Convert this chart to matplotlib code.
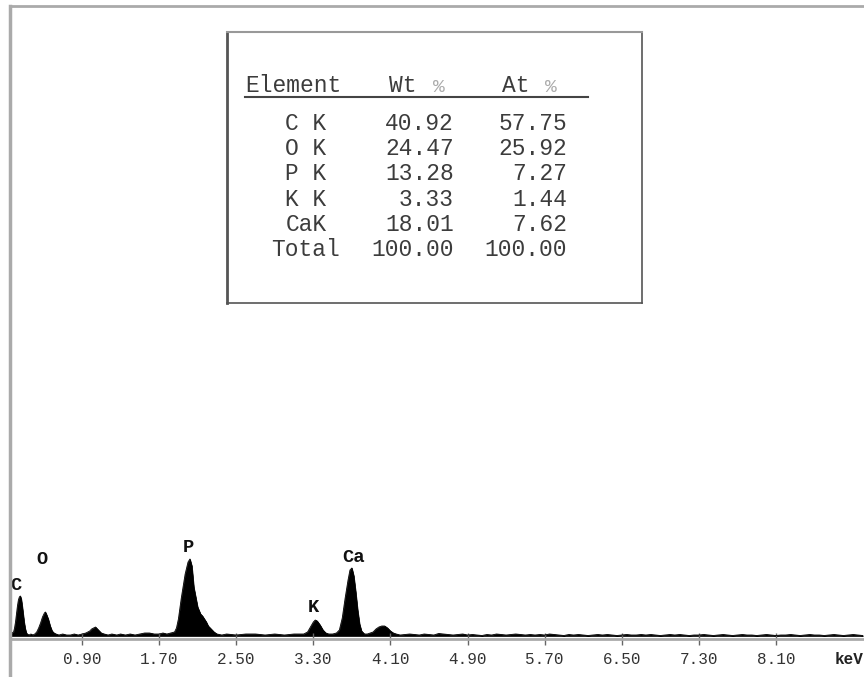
import numpy as np
import matplotlib.pyplot as plt
from matplotlib.lines import Line2D

# EDS spectrum, energy in keV and counts
energy = [0.15, 0.17, 0.19, 0.20, 0.21, 0.22, 0.23, 0.24, 0.25, 0.26,
          0.27, 0.28, 0.29, 0.30, 0.31, 0.32, 0.33, 0.35, 0.37, 0.39,
          0.41, 0.43, 0.45, 0.47, 0.49, 0.51, 0.52, 0.53, 0.55, 0.57,
          0.59, 0.61, 0.63, 0.66, 0.70, 0.74, 0.78, 0.82, 0.86, 0.90,
          0.94, 0.98, 1.00, 1.02, 1.04, 1.06, 1.08, 1.10, 1.13, 1.17,
          1.21, 1.26, 1.30, 1.35, 1.40, 1.45, 1.50, 1.55, 1.60, 1.65,
          1.70, 1.74, 1.78, 1.82, 1.86, 1.88, 1.90, 1.93, 1.97, 2.00,
          2.02, 2.04, 2.06, 2.10, 2.13, 2.15, 2.17, 2.19, 2.21, 2.24,
          2.27, 2.30, 2.35, 2.40, 2.50, 2.60, 2.70, 2.80, 2.90, 3.00,
          3.10, 3.20, 3.24, 3.27, 3.30, 3.32, 3.34, 3.37, 3.40, 3.43,
          3.46, 3.50, 3.54, 3.57, 3.60, 3.63, 3.66, 3.68, 3.70, 3.72,
          3.74, 3.76, 3.78, 3.80, 3.83, 3.86, 3.89, 3.92, 3.95, 3.98,
          4.01, 4.04, 4.07, 4.10, 4.13, 4.16, 4.20, 4.30]
counts = [40, 60, 80, 160, 280, 440, 600, 720, 780, 800,
          740, 600, 440, 280, 160, 80, 40, 20, 40, 20,
          40, 80, 160, 260, 380, 460, 480, 440, 340, 200,
          100, 60, 40, 20, 40, 20, 20, 40, 20, 40,
          60, 100, 140, 160, 180, 140, 100, 60, 40, 20,
          40, 20, 40, 20, 40, 20, 40, 60, 60, 40,
          40, 60, 40, 60, 80, 160, 340, 760, 1240, 1480,
          1540, 1400, 980, 580, 440, 400, 340, 280, 200, 140,
          80, 40, 20, 40, 20, 40, 40, 20, 40, 20,
          40, 40, 80, 180, 280, 320, 300, 220, 120, 60,
          40, 40, 60, 120, 360, 760, 1120, 1320, 1360, 1200,
          880, 520, 240, 100, 40, 40, 60, 80, 140, 180,
          200, 200, 160, 100, 60, 40, 20, 40]

# flat noisy background above 4.3 keV
tail_energy = np.linspace(4.35, 9.0, 94)
tail_counts = [30, 20, 40, 30, 20, 50, 40, 30, 20, 30,
               40, 20, 30, 20, 10, 30, 20, 40, 30, 20,
               30, 40, 30, 20, 30, 20, 30, 20, 40, 30,
               20, 10, 30, 20, 30, 20, 10, 20, 30, 20,
               30, 20, 10, 20, 30, 20, 20, 30, 20, 30,
               20, 10, 20, 30, 20, 30, 20, 10, 20, 20,
               30, 20, 10, 20, 30, 20, 10, 20, 30, 20,
               20, 10, 20, 30, 20, 10, 20, 20, 30, 20,
               10, 20, 30, 20, 20, 10, 20, 30, 20, 10,
               20, 30, 20, 10]

# peak labels
peak_names = ['C', 'O', 'P', 'K', 'Ca']
peak_energy = [0.21, 0.485, 2.00, 3.30, 3.72]
peak_label_y = [1020, 1520, 1760, 560, 1580]

tick_values = [0.90, 1.70, 2.50, 3.30, 4.10, 4.90, 5.70, 6.50, 7.30, 8.10]

# quantification table
elements = ['C K', 'O K', 'P K', 'K K', 'CaK', 'Total']
wt_pct = [40.92, 24.47, 13.28, 3.33, 18.01, 100.00]
at_pct = [57.75, 25.92, 7.27, 1.44, 7.62, 100.00]

mono = 'Liberation Mono'
W, H = 864, 677
fig = plt.figure(figsize=(8.64, 6.77), dpi=100)
ax = fig.add_axes([10 / W, 1 - 639 / H, 1 - 10 / W, (639 - 6) / H])

all_e = np.concatenate([energy, tail_energy])
all_c = np.concatenate([counts, tail_counts])
ax.fill_between(all_e, all_c, 0, color='black', lw=0.5)
ax.plot(all_e, all_c, color='black', lw=0.6)

ax.set_xlim(0.153, 9.013)
ax.set_ylim(-60, 12600)

for name, e, y in zip(peak_names, peak_energy, peak_label_y):
    ax.text(e, y, name, ha='center', va='center', fontfamily=mono,
            fontsize=13.5, fontweight='bold', color='#111')

ax.set_yticks([])
ax.set_xticks(tick_values)
ax.set_xticklabels([f'{v:.2f}' for v in tick_values], fontfamily=mono,
                   fontsize=11.5, color='#333')
ax.tick_params(axis='x', direction='inout', length=8, width=1,
               color='#666', pad=5)
ax.annotate('keV', xy=(8.86, 0), xycoords=('data', 'axes fraction'),
            xytext=(0, -21), textcoords='offset pixels', ha='center',
            va='center', fontfamily=mono, fontsize=11.5, fontweight='bold',
            color='#222')

ax.spines['right'].set_visible(False)
ax.spines['top'].set_color('#aaaaaa')
ax.spines['top'].set_linewidth(2)
ax.spines['bottom'].set_color('#aaaaaa')
ax.spines['bottom'].set_linewidth(2)
ax.spines['left'].set_visible(False)
fig.add_artist(Line2D([10 / W, 10 / W], [0, 1 - 6 / H], transform=fig.transFigure,
                      color='#aaaaaa', lw=2.5))

# table box, coordinates in pixels inside the box
tax = fig.add_axes([227 / W, 1 - 303 / H, (642 - 227) / W, (303 - 32) / H])
tax.set_xlim(227, 642)
tax.set_ylim(303, 32)
tax.set_xticks([])
tax.set_yticks([])
tax.spines['left'].set_color('#555')
tax.spines['left'].set_linewidth(2)
tax.spines['top'].set_color('#999')
tax.spines['top'].set_linewidth(1.5)
tax.spines['right'].set_color('#555')
tax.spines['right'].set_linewidth(1.2)
tax.spines['bottom'].set_color('#555')
tax.spines['bottom'].set_linewidth(1.2)

txt = dict(fontfamily=mono, fontsize=16.5, color='#3c3c3c', va='baseline')
tax.text(245, 92, 'Element', ha='left', **txt)
tax.text(389, 92, 'Wt', ha='left', **txt)
tax.text(502, 92, 'At', ha='left', **txt)
tax.text(433, 92, '%', ha='left', va='baseline', fontfamily=mono,
         fontsize=14, color='#aaaaaa')
tax.text(545, 92, '%', ha='left', va='baseline', fontfamily=mono,
         fontsize=14, color='#aaaaaa')
tax.plot([245, 588], [97, 97], color='#444', lw=1.5)

for i, (name, wt, at) in enumerate(zip(elements, wt_pct, at_pct)):
    y = 129.5 + i * 25.4
    tax.text(306, y, name, ha='center', **txt)
    tax.text(454, y, f'{wt:.2f}', ha='right', **txt)
    tax.text(567, y, f'{at:.2f}', ha='right', **txt)

fig.savefig('out.png', dpi=100)
